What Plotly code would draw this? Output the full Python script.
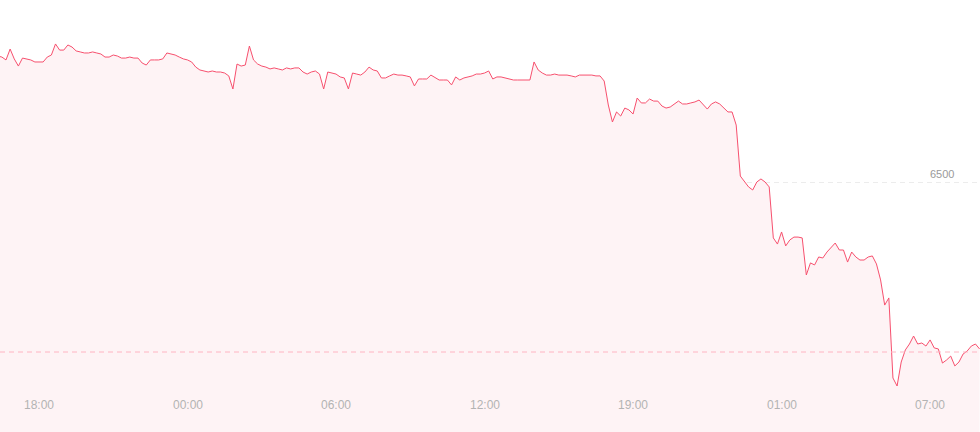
import plotly.graph_objects as go

# 10-minute samples of the index, starting 16:20 (tick "18:00" is sample 10)
prices = [
    6574.1, 6573.5, 6571.8, 6578.2, 6572.4, 6568.2, 6572.9, 6572.4, 6571.8, 6570.6,
    6570.6, 6570.6, 6573.5, 6574.7, 6581.2, 6577.6, 6577.6, 6580.6, 6579.4, 6577.1,
    6576.5, 6575.9, 6575.9, 6576.5, 6575.9, 6575.3, 6573.5, 6573.5, 6574.7, 6574.1,
    6572.9, 6572.9, 6573.5, 6572.9, 6572.9, 6570.0, 6568.8, 6571.8, 6571.8, 6571.8,
    6572.4, 6575.9, 6575.3, 6574.7, 6573.5, 6572.4, 6571.8, 6570.6, 6567.6, 6565.9,
    6565.3, 6564.7, 6565.3, 6564.7, 6564.7, 6564.1, 6562.4, 6554.7, 6569.4, 6568.2,
    6568.8, 6580.0, 6571.8, 6569.4, 6568.2, 6567.6, 6566.5, 6567.1, 6566.5, 6565.9,
    6567.1, 6566.5, 6567.1, 6567.1, 6564.7, 6563.5, 6564.7, 6565.3, 6563.5, 6554.7,
    6564.7, 6564.1, 6563.5, 6561.8, 6561.2, 6554.7, 6564.1, 6563.5, 6562.9, 6564.7,
    6567.6, 6565.9, 6565.3, 6561.2, 6561.2, 6562.4, 6563.5, 6562.9, 6562.9, 6562.4,
    6561.8, 6556.5, 6560.6, 6560.6, 6560.6, 6562.9, 6561.2, 6560.0, 6560.0, 6560.0,
    6557.1, 6561.8, 6560.0, 6561.2, 6561.8, 6562.4, 6563.5, 6563.5, 6564.1, 6565.3,
    6560.6, 6561.8, 6561.8, 6561.2, 6560.6, 6560.0, 6560.0, 6560.0, 6560.0, 6560.0,
    6570.6, 6565.9, 6564.1, 6562.9, 6562.9, 6563.5, 6562.9, 6562.9, 6562.9, 6562.4,
    6561.8, 6562.9, 6562.9, 6562.9, 6562.9, 6562.4, 6562.4, 6559.4, 6545.3, 6535.3,
    6541.2, 6538.8, 6543.5, 6542.4, 6540.0, 6549.4, 6546.5, 6546.5, 6548.8, 6547.6,
    6547.6, 6544.7, 6543.5, 6544.1, 6545.9, 6547.6, 6545.9, 6545.9, 6546.5, 6547.1,
    6548.2, 6545.3, 6542.9, 6545.9, 6547.1, 6545.9, 6543.5, 6541.2, 6541.2, 6533.5,
    6503.5, 6500.0, 6497.1, 6495.3, 6500.0, 6501.8, 6500.0, 6497.1, 6467.1, 6463.5,
    6470.6, 6462.4, 6465.9, 6467.6, 6467.6, 6467.1, 6445.3, 6452.4, 6451.2, 6455.9,
    6455.3, 6458.8, 6461.2, 6464.1, 6460.0, 6460.0, 6452.9, 6458.8, 6455.9, 6454.1,
    6454.1, 6455.9, 6456.5, 6451.8, 6442.4, 6427.6, 6431.8, 6384.7, 6380.0, 6394.1,
    6401.2, 6404.7, 6409.4, 6404.7, 6405.3, 6403.5, 6407.1, 6402.4, 6401.8, 6393.5,
    6395.3, 6397.6, 6391.8, 6394.1, 6398.8, 6400.6, 6403.5, 6404.7, 6401.8,
]
sample_index = list(range(len(prices)))

tick_positions = [10, 46, 82, 118, 154, 190, 226]
tick_labels = ["18:00", "00:00", "06:00", "12:00", "19:00", "01:00", "07:00"]

grid_value = 6500
grid_label = "6500"
reference_price = 6400

y_range = [6352.94, 6607.06]
x_range = [0.545, 238.1]

line_color = "#f7506e"
fill_color = "#fef3f5"
font_family = "Liberation Sans, Arial, sans-serif"

fig = go.Figure()
fig.add_trace(go.Scatter(
    x=sample_index, y=prices, mode="lines",
    line=dict(color=line_color, width=1),
    fill="tozeroy", fillcolor=fill_color,
    hoverinfo="skip", showlegend=False,
))

fig.add_shape(type="line", xref="paper", x0=0, x1=1, yref="y",
              y0=reference_price, y1=reference_price,
              line=dict(color="#ffb4c2", width=1, dash="5px,4px"), layer="above")

fig.add_annotation(x=956 / 980, xref="paper", y=grid_value, yref="y",
                   text=grid_label, showarrow=False, xanchor="right", yanchor="bottom",
                   yshift=0, font=dict(family=font_family, size=11, color="#9a9a9a"))

for pos, lab in zip(tick_positions, tick_labels):
    fig.add_annotation(x=pos, xref="x", y=(432 - 405) / 432, yref="paper",
                       text=lab, showarrow=False, xanchor="center", yanchor="middle",
                       font=dict(family=font_family, size=12, color="#b3b3b3"))

fig.update_xaxes(range=x_range, showgrid=False, zeroline=False, showticklabels=False,
                 showline=False, fixedrange=True)
fig.update_yaxes(range=y_range, tickvals=[grid_value], showticklabels=False,
                 showgrid=True, gridcolor="#ececec", griddash="5px,4px", gridwidth=1,
                 zeroline=False, showline=False, fixedrange=True)

fig.update_layout(width=980, height=432, margin=dict(l=0, r=0, t=0, b=0),
                  paper_bgcolor="white", plot_bgcolor="white")

fig.write_html("out.html", config={"displayModeBar": False},
               post_script="document.body.style.margin='0px';document.body.style.overflow='hidden';")
